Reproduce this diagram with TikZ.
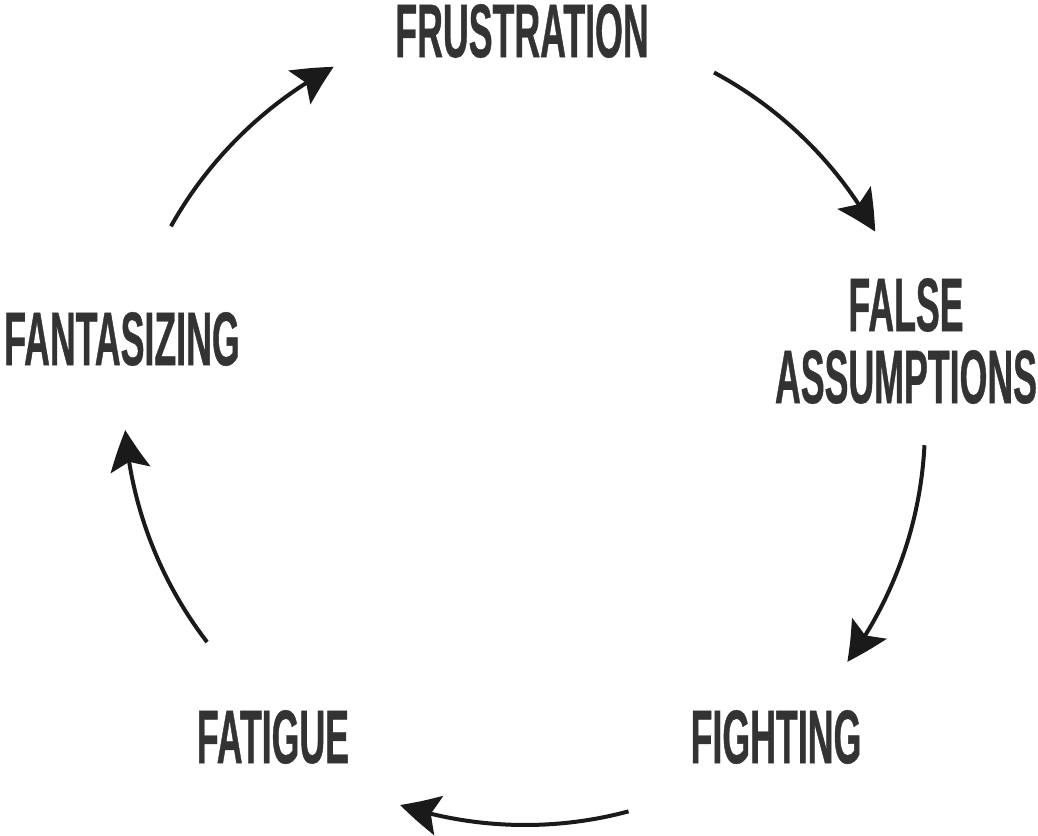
\documentclass[tikz,border=0pt]{standalone}
\usepackage{fontspec}
\newfontfamily\cycfont{Liberation Sans}[FakeStretch=0.47, FakeBold=0.5]
\usetikzlibrary{arrows.meta, bending}
\definecolor{txtgray}{HTML}{333333}
\definecolor{arrowblack}{HTML}{1A1A1A}
\begin{document}
\begin{tikzpicture}[
    x=0.5pt, y=0.5pt,
    lbl/.style={font=\cycfont\bfseries\fontsize{38}{36}\selectfont, text=txtgray, inner sep=0pt, align=center},
    cycarrow/.style={draw=arrowblack, line width=2pt, -{Stealth[length=20pt, width=20pt, inset=4pt, bend]}}
]
    \useasboundingbox (-525,-410) rectangle (513,425);
    % stages of the cycle
    \node[lbl] (frustration) at (-3,394) {FRUSTRATION};
    \node[lbl] (assumptions) at (381,84) {FALSE\\ASSUMPTIONS};
    \node[lbl] (fighting) at (251,-312) {FIGHTING};
    \node[lbl] (fatigue) at (-252,-312) {FATIGUE};
    \node[lbl] (fantasizing) at (-403,86) {FANTASIZING};
    % arrows between the stages (centre x/y, start, end, radius)
    \foreach \cx/\cy/\s/\e/\r [count=\i] in {0/0/61.8/28.9/400, 0/0/-2.9/-36.3/400,
        0/0/-75/-108.2/400, -1/27/217.6/184.6/400, 0/0/150.7/118.1/406} {
        \coordinate (arc\i) at ([shift={(\cx,\cy)}]\s:\r);
        \draw[cycarrow] (arc\i) arc[start angle=\s, end angle=\e, radius=\r];
    }
\end{tikzpicture}
\end{document}
